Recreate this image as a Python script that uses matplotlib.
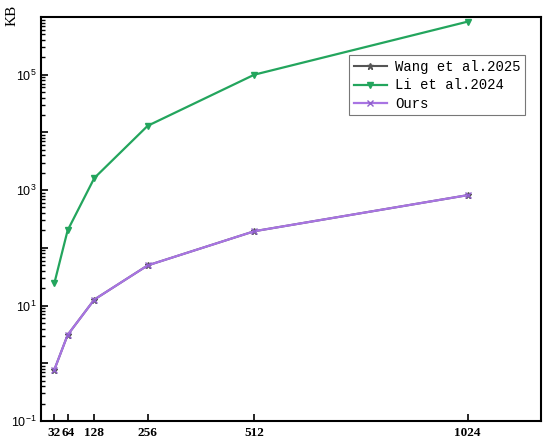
import matplotlib
matplotlib.use("Agg")
import matplotlib.pyplot as plt
from matplotlib.ticker import LogLocator, FixedLocator, NullFormatter, FuncFormatter
import math

sizes = [32, 64, 128, 256, 512, 1024]
wang = [0.77, 3.1, 12.7, 49.6, 194, 818]
li = [24.2, 201, 1618, 13000, 100000, 830000]
ours = [0.77, 3.1, 12.7, 49.6, 194, 818]
xtick_labels = ["32", "64", "128", "256", "512", "1024"]

fig = plt.figure(figsize=(5.5, 4.43), dpi=100)
ax = fig.add_axes([0.0745, 0.0497, 0.9091, 0.912])

ax.plot(sizes, wang, color="#555555", marker="*", markersize=5, lw=1.5, label="Wang et al.2025", zorder=2)
ax.plot(sizes, li, color="#23a55d", marker="v", markersize=5, lw=1.6, label="Li et al.2024", zorder=3)
ax.plot(sizes, ours, color="#a874e3", marker="x", markersize=5, mec="#9060cc", lw=1.6, label="Ours", zorder=4)

ax.set_yscale("log")
ax.set_ylim(0.1, 1.0e6)
ax.set_xlim(0, 1200)

ax.xaxis.set_major_locator(FixedLocator(sizes))
ax.set_xticklabels(xtick_labels, fontfamily="Liberation Serif", fontweight="bold", fontsize=9.5)

ax.yaxis.set_major_locator(LogLocator(base=10, numticks=20))
ax.yaxis.set_minor_locator(LogLocator(base=10, subs=(2, 3, 4, 5, 6, 7, 8, 9), numticks=20))
ax.yaxis.set_minor_formatter(NullFormatter())

def fmt(v, pos):
    e = int(round(math.log10(v)))
    if e in (-1, 1, 3, 5):
        return r"$\mathregular{10^{%d}}$" % e
    return ""
ax.yaxis.set_major_formatter(FuncFormatter(fmt))
ax.tick_params(axis="y", which="major", direction="in", length=5, width=1.2, labelsize=9, pad=3)
ax.tick_params(axis="y", which="minor", direction="in", length=3, width=1.0)
ax.tick_params(axis="x", which="major", direction="in", length=5, width=1.2, pad=4)
for t in ax.get_yticklabels():
    t.set_fontfamily("Liberation Sans")

for s in ax.spines.values():
    s.set_linewidth(1.5)

fig.text(12 / 550, 1 - 15 / 443, "KB", rotation=90, ha="center", va="center",
         fontfamily="Liberation Serif", fontsize=11)

leg = ax.legend(loc="upper right", bbox_to_anchor=(0.968, 0.905), prop={"family": "Liberation Mono", "size": 10},
                frameon=True, fancybox=False, edgecolor="#555555", handlelength=2.4, borderpad=0.3,
                labelspacing=0.35, handletextpad=0.6, borderaxespad=0)
leg.get_frame().set_linewidth(0.8)

fig.savefig("out.png", dpi=100)
